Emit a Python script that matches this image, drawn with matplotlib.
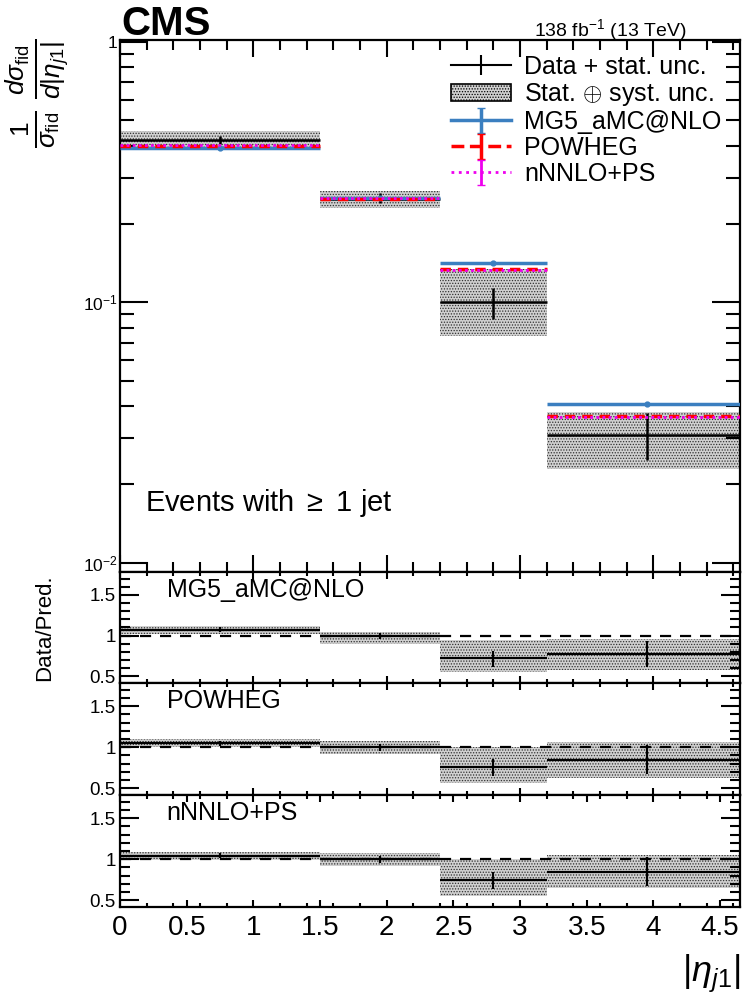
import numpy as np
import matplotlib
matplotlib.use('Agg')
import matplotlib.pyplot as plt
from matplotlib.ticker import MultipleLocator, LogLocator, NullFormatter, FixedLocator, FixedFormatter
from matplotlib.patches import Patch
from matplotlib.lines import Line2D

plt.rcParams['font.family'] = ['Liberation Sans', 'DejaVu Sans']
plt.rcParams['mathtext.fontset'] = 'custom'
plt.rcParams['mathtext.rm'] = 'Liberation Sans'
plt.rcParams['mathtext.it'] = 'Liberation Sans:italic'
plt.rcParams['hatch.linewidth'] = 0.6

# binning in |eta_j1|
edges = [0.0, 1.5, 2.4, 3.2, 4.7]
centers = [0.75, 1.95, 2.8, 3.95]

# normalised cross section
data = [0.42, 0.25, 0.100, 0.031]
data_stat_lo = [0.405, 0.240, 0.086, 0.0247]
data_stat_hi = [0.435, 0.262, 0.114, 0.0377]
band_lo = [0.385, 0.230, 0.074, 0.0229]
band_hi = [0.455, 0.268, 0.134, 0.0380]
mg5 = [0.393, 0.252, 0.142, 0.0405]
powheg = [0.400, 0.250, 0.134, 0.0365]
nnnlo = [0.402, 0.251, 0.133, 0.0362]

# ratio panels: data/prediction
ratio_names = ['MG5_aMC@NLO', 'POWHEG', 'nNNLO+PS']
ratio_data = [[1.07, 0.99, 0.72, 0.78],
              [1.05, 1.00, 0.76, 0.85],
              [1.04, 1.00, 0.75, 0.85]]
ratio_stat_lo = [[1.04, 0.96, 0.62, 0.62],
                 [1.02, 0.96, 0.65, 0.68],
                 [1.01, 0.96, 0.64, 0.68]]
ratio_stat_hi = [[1.10, 1.03, 0.81, 0.93],
                 [1.08, 1.04, 0.86, 1.03],
                 [1.07, 1.04, 0.85, 1.03]]
ratio_band_lo = [[1.02, 0.90, 0.55, 0.58],
                 [1.00, 0.92, 0.57, 0.63],
                 [0.99, 0.92, 0.55, 0.65]]
ratio_band_hi = [[1.12, 1.04, 0.95, 0.96],
                 [1.10, 1.07, 1.00, 1.06],
                 [1.09, 1.07, 1.00, 1.05]]

band_style = dict(facecolor='#d0d0d0', edgecolor='#303030', hatch='......', linewidth=0)
c_mg5 = '#3b7fc0'
c_pow = '#ff0000'
c_nnlo = '#ee00ee'

fig = plt.figure(figsize=(7.46, 9.96), dpi=100)
left, width = 0.161, 0.831
ax = fig.add_axes([left, 0.4257, width, 0.5343])
rax = [fig.add_axes([left, 0.3143, width, 0.1114]),
       fig.add_axes([left, 0.2018, width, 0.1125]),
       fig.add_axes([left, 0.0894, width, 0.1124])]

lo_edges = edges[:-1]
widths = np.diff(edges)

# main panel
ax.bar(lo_edges, np.array(band_hi) - np.array(band_lo), width=widths, bottom=band_lo,
       align='edge', zorder=1, **band_style)
ax.hlines(data, lo_edges, edges[1:], color='k', lw=1.8, zorder=3)
ax.vlines(centers, data_stat_lo, data_stat_hi, color='k', lw=1.8, zorder=3)
ax.hlines(mg5, lo_edges, edges[1:], color=c_mg5, lw=2.5, zorder=4)
ax.plot(centers, mg5, 'o', color=c_mg5, ms=3.5, zorder=4)
ax.hlines(powheg, lo_edges, edges[1:], color=c_pow, lw=2.5, linestyles=(0, (3, 2)), zorder=5)
ax.hlines(nnnlo, lo_edges, edges[1:], color=c_nnlo, lw=2.0, linestyles=(0, (1, 1.2)), zorder=6)

ax.set_yscale('log')
ax.set_xlim(0, 4.65)
ax.set_ylim(0.0092, 1.02)
ax.yaxis.set_major_locator(FixedLocator([0.01, 0.1, 1]))
ax.yaxis.set_major_formatter(FixedFormatter(['$10^{-2}$', '$10^{-1}$', '1']))
ax.yaxis.set_minor_locator(LogLocator(base=10, subs=np.arange(2, 10)))
ax.yaxis.set_minor_formatter(NullFormatter())
ax.tick_params(axis='y', which='major', labelsize=12.5, pad=2, length=20)
ax.tick_params(axis='y', which='minor', length=10)
ax.set_ylabel(r'$\frac{1}{\sigma_{\rm fid}}\;\frac{d\sigma_{\rm fid}}{d|\eta_{j1}|}$',
              fontsize=27)
ax.yaxis.set_label_coords(-0.08, 0.9)
ax.tick_params(labelbottom=False)

ax.text(0.04, 0.115, r'Events with $\geq$ 1 jet', transform=ax.transAxes, fontsize=21)
fig.text(0.163, 0.965, 'CMS', fontsize=29, fontweight='bold', va='baseline')
fig.text(0.92, 0.964, r'138 fb$^{-1}$ (13 TeV)', fontsize=14, ha='right', va='baseline')

handles = [
    Line2D([], [], color='k', lw=1.5, marker='|', ms=14, mew=1.5),
    Patch(facecolor='#d0d0d0', edgecolor='k', hatch='......', lw=1.2),
    ax.errorbar([np.nan], [np.nan], yerr=[1], fmt='-', color=c_mg5, lw=2.5, capsize=3),
    ax.errorbar([np.nan], [np.nan], yerr=[1], fmt='--', color=c_pow, lw=2.5, capsize=3),
    ax.errorbar([np.nan], [np.nan], yerr=[1], fmt=':', color=c_nnlo, lw=2.0, capsize=3),
]
labels = ['Data + stat. unc.', r'Stat. $\oplus$ syst. unc.', 'MG5_aMC@NLO', 'POWHEG', 'nNNLO+PS']
ax.legend(handles, labels, loc='upper right', bbox_to_anchor=(0.99, 0.995), frameon=False,
          fontsize=18, handlelength=2.4, labelspacing=0.08, handletextpad=0.5, borderaxespad=0.1)

# ratio panels
for i, r in enumerate(rax):
    r.bar(lo_edges, np.array(ratio_band_hi[i]) - np.array(ratio_band_lo[i]), width=widths,
          bottom=ratio_band_lo[i], align='edge', zorder=1, **band_style)
    r.axhline(1.0, color='k', lw=1.6, ls=(0, (5, 4)), zorder=2)
    r.hlines(ratio_data[i], lo_edges, edges[1:], color='k', lw=1.6, zorder=3)
    r.vlines(centers, ratio_stat_lo[i], ratio_stat_hi[i], color='k', lw=1.6, zorder=3)
    r.set_xlim(0, 4.65)
    r.set_ylim(0.42, 1.78)
    r.yaxis.set_major_locator(FixedLocator([0.5, 1.0, 1.5]))
    r.yaxis.set_major_formatter(FixedFormatter(['0.5', '1', '1.5']))
    r.yaxis.set_minor_locator(MultipleLocator(0.1))
    r.text(0.075, 0.95, ratio_names[i], transform=r.transAxes, fontsize=18, va='top')
    if i < 2:
        r.tick_params(labelbottom=False)

rax[0].set_ylabel('Data/Pred.', fontsize=16)
rax[0].yaxis.set_label_coords(-0.105, 0.5)

for a in [ax] + rax:
    a.xaxis.set_major_locator(MultipleLocator(1.0))
    a.xaxis.set_minor_locator(MultipleLocator(0.2))
    a.tick_params(which='both', direction='in', top=True, right=True, width=1.5)
    a.tick_params(axis='x', which='major', length=12)
    a.tick_params(axis='x', which='minor', length=7)
    for s in a.spines.values():
        s.set_linewidth(1.6)
for r in rax:
    r.tick_params(axis='x', which='major', length=5)
    r.tick_params(axis='x', which='minor', length=3)
    r.tick_params(axis='y', which='major', labelsize=13.5, pad=3, length=14)
    r.tick_params(axis='y', which='minor', length=7)

rax[2].xaxis.set_major_locator(FixedLocator([0, 0.5, 1, 1.5, 2, 2.5, 3, 3.5, 4, 4.5]))
rax[2].xaxis.set_major_formatter(FixedFormatter(['0', '0.5', '1', '1.5', '2', '2.5', '3', '3.5', '4', '4.5']))
rax[2].tick_params(axis='x', labelsize=20, pad=6)
rax[2].set_xlabel(r'$|\eta_{j1}|$', fontsize=26, loc='right', labelpad=8)

fig.savefig('out.png', dpi=100)
